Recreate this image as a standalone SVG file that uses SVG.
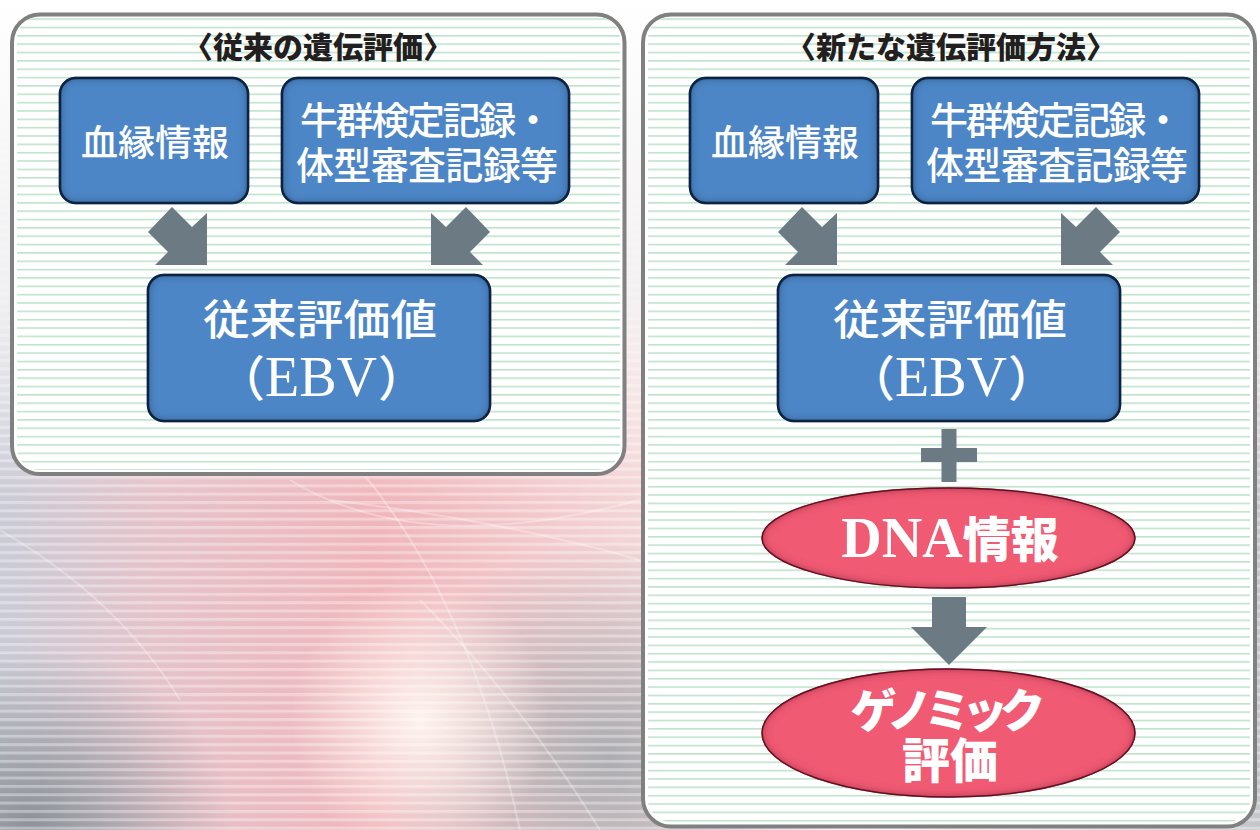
<svg xmlns="http://www.w3.org/2000/svg" width="1260" height="830" viewBox="0 0 1260 830">
<defs>
  <style>
    .panel { fill:#ffffff; stroke:#808080; stroke-width:4; }
    .box { fill:#4e86c6; stroke:#152949; stroke-width:2.5; filter:url(#innerBlue); }
    .oval { fill:#f05a73; stroke:#6e1626; stroke-width:1.5; filter:url(#innerRed); }
    .arrow { fill:#6b7a83; }
    .title { font-family:"Noto Sans CJK JP", sans-serif; font-weight:900; font-size:30px; fill:#231f20; text-anchor:middle; }
    .bt { font-family:"Noto Sans CJK JP", sans-serif; font-weight:500; fill:#ffffff; text-anchor:middle; }
    .bs { font-family:"Noto Sans CJK JP", sans-serif; font-weight:500; fill:#ffffff; text-anchor:start; }
    .ser { font-family:"Liberation Serif", "Noto Sans CJK JP", serif; }
    .heavy { font-family:"Noto Sans CJK JP", sans-serif; font-weight:900; fill:#ffffff; text-anchor:middle; }
  </style>
  <pattern id="stripes" patternUnits="userSpaceOnUse" x="0" y="18.3" width="20" height="8.35">
    <rect width="20" height="1.6" fill="#bfe3cb"/>
  </pattern>
  <pattern id="bgStripes" patternUnits="userSpaceOnUse" x="0" y="0" width="20" height="8.35">
    <rect width="20" height="3" fill="#ffffff" fill-opacity="0.35"/>
  </pattern>
  <linearGradient id="bgH" x1="0" y1="0" x2="1" y2="0">
    <stop offset="0" stop-color="#c9cbd6"/>
    <stop offset="0.12" stop-color="#e4c3ca"/>
    <stop offset="0.3" stop-color="#efb6bb"/>
    <stop offset="0.55" stop-color="#f4dcdc"/>
    <stop offset="0.7" stop-color="#f1f1f3"/>
    <stop offset="0.85" stop-color="#d9dde2"/>
    <stop offset="1" stop-color="#c3c6ca"/>
  </linearGradient>
  <linearGradient id="topWhite" x1="0" y1="0" x2="0" y2="1">
    <stop offset="0" stop-color="#ffffff" stop-opacity="1"/>
    <stop offset="0.35" stop-color="#f4f4f5" stop-opacity="0.9"/>
    <stop offset="0.6" stop-color="#ffffff" stop-opacity="0"/>
  </linearGradient>
  <radialGradient id="darkBL" cx="0.5" cy="0.5" r="0.5">
    <stop offset="0" stop-color="#8a9097" stop-opacity="0.95"/>
    <stop offset="1" stop-color="#8a9097" stop-opacity="0"/>
  </radialGradient>
  <radialGradient id="grayBR" cx="0.5" cy="0.5" r="0.5">
    <stop offset="0" stop-color="#a3a8ad" stop-opacity="0.9"/>
    <stop offset="1" stop-color="#a3a8ad" stop-opacity="0"/>
  </radialGradient>
  <radialGradient id="glow" cx="0.5" cy="0.5" r="0.5">
    <stop offset="0" stop-color="#fff6f0" stop-opacity="0.95"/>
    <stop offset="1" stop-color="#fff6f0" stop-opacity="0"/>
  </radialGradient>
  <filter id="innerBlue" x="-10%" y="-10%" width="120%" height="120%">
    <feFlood flood-color="#0b1c38" flood-opacity="1"/>
    <feComposite in2="SourceAlpha" operator="out"/>
    <feGaussianBlur stdDeviation="5"/>
    <feComposite in2="SourceAlpha" operator="in" result="sh"/>
    <feMerge><feMergeNode in="SourceGraphic"/><feMergeNode in="sh"/></feMerge>
  </filter>
  <filter id="innerRed" x="-10%" y="-10%" width="120%" height="120%">
    <feFlood flood-color="#5e0c1c" flood-opacity="0.95"/>
    <feComposite in2="SourceAlpha" operator="out"/>
    <feGaussianBlur stdDeviation="4"/>
    <feComposite in2="SourceAlpha" operator="in" result="sh"/>
    <feMerge><feMergeNode in="SourceGraphic"/><feMergeNode in="sh"/></feMerge>
  </filter>
</defs>

<!-- background -->
<g id="background">
  <rect x="0" y="0" width="1260" height="830" fill="url(#bgH)"/>
  <ellipse cx="30" cy="820" rx="200" ry="170" fill="url(#darkBL)"/>
  <ellipse cx="610" cy="760" rx="230" ry="220" fill="url(#grayBR)"/>
  <ellipse cx="420" cy="720" rx="130" ry="140" fill="url(#glow)"/>
  <rect x="0" y="0" width="1260" height="830" fill="url(#bgStripes)"/>
  <g fill="none" stroke="#ffffff" stroke-opacity="0.3" stroke-width="2">
    <path d="M290 480 Q420 560 640 500"/>
    <path d="M360 470 Q470 600 520 830"/>
    <path d="M420 600 Q520 700 600 830"/>
    <path d="M330 500 Q500 520 640 560"/>
    <path d="M0 530 Q120 600 180 700"/>
  </g>
  <rect x="0" y="0" width="1260" height="830" fill="url(#topWhite)"/>
</g>

<!-- left panel -->
<g id="panel-left">
  <rect class="panel" x="12" y="14.5" width="612.5" height="459.5" rx="28"/>
  <rect x="17" y="17" width="603" height="453" rx="22" fill="url(#stripes)"/>
  <text class="title" x="318" y="58">〈従来の遺伝評価〉</text>
</g>

<!-- right panel -->
<g id="panel-right">
  <rect class="panel" x="643" y="14.5" width="612" height="812" rx="28"/>
  <rect x="648" y="17" width="602" height="805" rx="22" fill="url(#stripes)"/>
  <text class="title" x="951" y="58">〈新たな遺伝評価方法〉</text>
</g>

<!-- connectors -->
<g id="connectors">
  <polygon class="arrow" points="172,207 192,227 207,213 207,265 155,265 168,252 148,232"/>
  <polygon class="arrow" points="466,207 446,227 431,213 431,265 483,265 470,252 490,232"/>
  <polygon class="arrow" points="802,207 822,227 837,213 837,265 785,265 798,252 778,232"/>
  <polygon class="arrow" points="1096,207 1076,227 1061,213 1061,265 1113,265 1100,252 1120,232"/>
  <g id="plus">
    <rect class="arrow" x="941.5" y="429" width="15" height="53"/>
    <rect class="arrow" x="921" y="448" width="56" height="14"/>
  </g>
  <polygon class="arrow" points="932,597 966,597 966,627 987,627 949,665 911,627 932,627"/>
</g>

<!-- left nodes -->
<g id="node-left-pedigree">
  <rect class="box" x="60" y="78" width="188" height="125" rx="16"/>
  <text class="bt" x="155" y="155.5" font-size="36" textLength="148" lengthAdjust="spacingAndGlyphs">血縁情報</text>
</g>
<g id="node-left-records">
  <rect class="box" x="282" y="78" width="287" height="125" rx="16"/>
  <text class="bs" x="300" y="134" font-size="38" textLength="252">牛群検定記録・</text>
  <text class="bs" x="296" y="179" font-size="38" textLength="262">体型審査記録等</text>
</g>
<g id="node-left-ebv">
  <rect class="box" x="148" y="275" width="342" height="146" rx="16"/>
  <text class="bt" x="320" y="335" font-size="42" textLength="234" lengthAdjust="spacingAndGlyphs">従来評価値</text>
  <text class="bt ser" font-size="56" y="396"><tspan x="265" text-anchor="end" font-size="48">（</tspan><tspan x="321" text-anchor="middle">EBV</tspan><tspan x="378" text-anchor="start" font-size="48">）</tspan></text>
</g>

<!-- right nodes -->
<g id="node-right-pedigree">
  <rect class="box" x="690" y="78" width="188" height="125" rx="16"/>
  <text class="bt" x="785" y="155.5" font-size="36" textLength="148" lengthAdjust="spacingAndGlyphs">血縁情報</text>
</g>
<g id="node-right-records">
  <rect class="box" x="912" y="78" width="287" height="125" rx="16"/>
  <text class="bs" x="930" y="134" font-size="38" textLength="252">牛群検定記録・</text>
  <text class="bs" x="926" y="179" font-size="38" textLength="262">体型審査記録等</text>
</g>
<g id="node-right-ebv">
  <rect class="box" x="778" y="275" width="342" height="146" rx="16"/>
  <text class="bt" x="950" y="335" font-size="42" textLength="234" lengthAdjust="spacingAndGlyphs">従来評価値</text>
  <text class="bt ser" font-size="56" y="396"><tspan x="895" text-anchor="end" font-size="48">（</tspan><tspan x="951" text-anchor="middle">EBV</tspan><tspan x="1008" text-anchor="start" font-size="48">）</tspan></text>
</g>
<g id="node-dna">
  <ellipse class="oval" cx="948.5" cy="538" rx="186.5" ry="50"/>
  <text class="heavy" x="950" y="557" font-size="48"><tspan class="ser" font-weight="700" font-size="56">DNA</tspan>情報</text>
</g>
<g id="node-genomic">
  <ellipse class="oval" cx="948.5" cy="733" rx="186.5" ry="64"/>
  <text class="heavy" x="948" y="727" font-size="46" textLength="195">ゲノミック</text>
  <text class="heavy" x="950" y="778" font-size="48">評価</text>
</g>
</svg>
